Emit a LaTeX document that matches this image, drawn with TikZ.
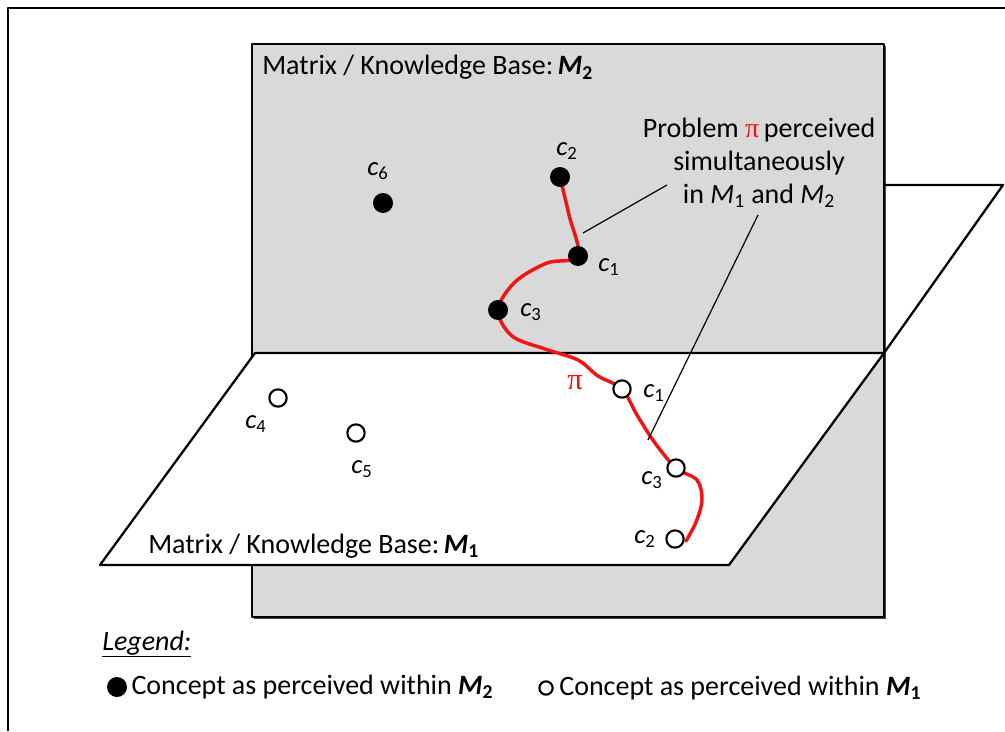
\documentclass[tikz,border=0pt]{standalone}
\usepackage{fontspec}
\setmainfont{Carlito}
\newfontfamily\pifont{Liberation Serif}
\usetikzlibrary{positioning,shadows}

\definecolor{planegray}{RGB}{217,217,217}
\definecolor{pathred}{RGB}{240,20,20}

\newcommand{\cc}[1]{\textit{c}\textsubscript{#1}}
\newcommand{\mm}[1]{\textit{M}\textsubscript{#1}}
\newcommand{\mb}[1]{\textbf{\textit{M}\textsubscript{#1}}}

\begin{document}
\begin{tikzpicture}[x=0.75pt, y=-0.75pt, line join=round,
    every node/.style={font=\fontsize{21}{24.5}\selectfont, inner sep=0pt},
    plane/.style={draw=black, line width=1.7pt},
    fulldot/.style={circle, fill=black, minimum size=15pt},
    opendot/.style={circle, draw=black, fill=white, line width=1.6pt, minimum size=13pt},
    clabel/.style={font=\fontsize{20}{22}\selectfont},
    redpath/.style={draw=pathred, line width=2.6pt, line cap=round},
    callout/.style={draw=black, line width=0.9pt}]
    \useasboundingbox (0,0) rectangle (1005,731);

    % 1. 外框
    \draw[line width=1.7pt] (8,731) -- (8,8) -- (1005,8);

    % 2. 竖直平面 M2
    \draw[plane, fill=planegray,
        drop shadow={shadow xshift=1.3pt, shadow yshift=-1.3pt, fill=black!70, opacity=1}]
        (252,44) rectangle (884,617);
    \node[anchor=base west] (titletwo) at (262,75) {Matrix / Knowledge Base:\,\mb{2}};

    % 3. 水平平面 M1
    \draw[plane] (884,185) -- (1003,185) -- (884,353);
    \draw[plane, fill=white] (255,353) -- (884,353) -- (729,565) -- (100,565) -- cycle;
    \node[anchor=base west] (titleone) at (148,553) {Matrix / Knowledge Base:\,\mb{1}};

    % 4. 问题路径
    \coordinate (pc2) at (560,177);
    \coordinate (pc1) at (578,256);
    \coordinate (pc3) at (498,310);
    \coordinate (qc1) at (622,389);
    \coordinate (qc3) at (676,468);
    \coordinate (qc2) at (686,541);
    \draw[redpath] plot[smooth, tension=0.55] coordinates {(pc2) (569,215) (pc1)
        (547,263) (515,282) (pc3) (512,336) (545,349) (578,360) (598,376) (qc1)
        (637,415) (655,443) (qc3) (697,480) (702,500) (696,522) (qc2)};
    \node[text=pathred, font=\fontsize{23}{24}\pifont] (pilabel) at (575,383) {π};

    % 5. 概念点
    \node[fulldot] (m2c2) at (pc2) {};
    \node[fulldot] (m2c1) at (pc1) {};
    \node[fulldot] (m2c3) at (pc3) {};
    \node[fulldot] (m2c6) at (383,203) {};
    \node[opendot] (m1c1) at (qc1) {};
    \node[opendot] (m1c3) at (qc3) {};
    \node[opendot] (m1c2) at (675,539) {};
    \node[opendot] (m1c4) at (278,398) {};
    \node[opendot] (m1c5) at (356,433) {};

    % 6. 标号
    \node[clabel] (lm2c2) at (567,151) {\cc{2}};
    \node[clabel] (lm2c1) at (609,267) {\cc{1}};
    \node[clabel] (lm2c3) at (531,312) {\cc{3}};
    \node[clabel] (lm2c6) at (378,171) {\cc{6}};
    \node[clabel] (lm1c1) at (654,393) {\cc{1}};
    \node[clabel] (lm1c3) at (652,480) {\cc{3}};
    \node[clabel] (lm1c2) at (645,539) {\cc{2}};
    \node[clabel] (lm1c4) at (256,424) {\cc{4}};
    \node[clabel] (lm1c5) at (362,469) {\cc{5}};

    % 7. 说明文字
    \node[align=center, anchor=north] (note) at (759,118)
        {Problem \textcolor{pathred}{\pifont π}\,perceived\\simultaneously\\in \mm{1} and \mm{2}};
    \coordinate (tailone) at (667,185);
    \coordinate (tipone) at (583,233);
    \coordinate (tailtwo) at (758,215);
    \coordinate (tiptwo) at (648,440);
    \draw[callout] (tailone) -- (tipone);
    \draw[callout] (tailtwo) -- (tiptwo);

    % 8. 图例
    \node[anchor=base west] (leghead) at (102,650) {\underline{\textit{Legend:}}};
    \node[fulldot] (legfull) at (117,687) {};
    \node[anchor=west, right=3pt of legfull.east] (legtwo) {Concept as perceived within \mb{2}};
    \node[opendot, minimum size=10pt] (legopen) at (546,688) {};
    \node[anchor=west, right=4pt of legopen.east] (legone) {Concept as perceived within \mb{1}};
\end{tikzpicture}
\end{document}
